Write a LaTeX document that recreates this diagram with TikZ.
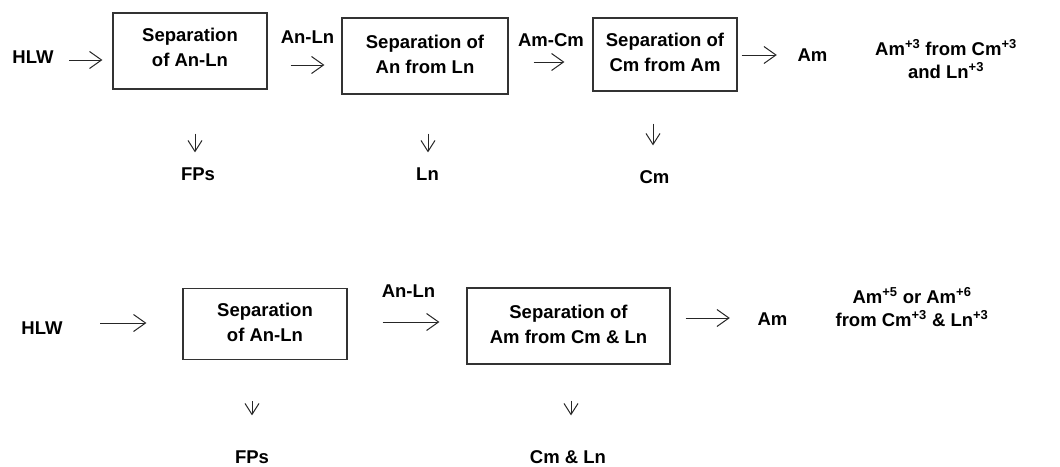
\documentclass[tikz,border=0pt]{standalone}
\usepackage{fontspec}
\setmainfont{Liberation Sans}
\usetikzlibrary{arrows.meta}
\newcommand{\lowstrut}[1]{\rule[-#1pt]{0pt}{#1pt}}
\begin{document}
\begin{tikzpicture}[x=1pt,y=-1pt,
  every node/.style={font=\bfseries\fontsize{18.5}{25}\selectfont, inner sep=0pt, text=black},
  box/.style={draw=black!80, line width=1.2pt, align=center},
  lbl/.style={anchor=base},
  note/.style={anchor=base, align=center, font=\bfseries\fontsize{18.5}{23}\selectfont},
  rarr/.style={draw=black!85, line width=1pt, -{Straight Barb[length=12pt,width=17pt]}},
  darr/.style={draw=black!85, line width=1pt, -{Straight Barb[length=11pt,width=14pt]}},
]
\useasboundingbox (0,0) rectangle (1060,466);

% ---------- top row ----------
\node[lbl] (hlw1) at (33,63.3) {HLW};
\node[box, minimum width=154pt, minimum height=76pt] (b1) at (190,51) {Separation\\of An-Ln\lowstrut{7}};
\node[lbl] (lab1) at (307.5,43.3) {An-Ln};
\node[box, minimum width=166pt, minimum height=76pt] (b2) at (425,56) {Separation of\\An from Ln\lowstrut{4}};
\node[lbl] (lab2) at (551,46.7) {Am-Cm};
\node[box, minimum width=144pt, minimum height=73pt] (b3) at (665,54.5) {Separation of\\Cm from Am\lowstrut{4}};
\node[lbl] (am1) at (812.5,61.5) {Am};
\node[note] (note1) at (946,78) {Am\textsuperscript{+3} from Cm\textsuperscript{+3}\\and Ln\textsuperscript{+3}};
\node[lbl] (fp1) at (198,180) {FPs};
\node[lbl] (ln1) at (427.5,180) {Ln};
\node[lbl] (cm1) at (654.5,183) {Cm};

\draw[rarr] ([shift={(15.3,-3.3)}]hlw1.base east) -- ([shift={(-10,9)}]b1.west);
\draw[rarr] ([shift={(23,14)}]b1.east) -- ([shift={(-17,9)}]b2.west);
\draw[rarr] ([shift={(25,6)}]b2.east) -- ([shift={(-28,7.5)}]b3.west);
\draw[rarr] ([shift={(4,0.5)}]b3.east) -- ([shift={(-20.6,-6.5)}]am1.base west);
\draw[darr] ([shift={(5,44)}]b1.south) -- ([shift={(-3,-14.7)}]fp1.north);
\draw[darr] ([shift={(3,39)}]b2.south) -- ([shift={(0.5,-14.7)}]ln1.north);
\draw[darr] ([shift={(-12,32)}]b3.south) -- ([shift={(-1.5,-24.5)}]cm1.north);

% ---------- bottom row ----------
\node[lbl] (hlw2) at (42,334) {HLW};
\node[box, minimum width=164pt, minimum height=71pt] (b4) at (265,324) {Separation\\of An-Ln\lowstrut{4}};
\node[lbl] (lab3) at (408.5,297) {An-Ln};
\node[box, minimum width=203pt, minimum height=76pt] (b5) at (568.5,326) {Separation of\\Am from Cm \& Ln\lowstrut{4}};
\node[lbl] (am2) at (772.5,325) {Am};
\node[note] (note2) at (912,326) {Am\textsuperscript{+5} or Am\textsuperscript{+6}\\from Cm\textsuperscript{+3} \& Ln\textsuperscript{+3}};
\node[lbl] (fp2) at (252,463) {FPs};
\node[lbl] (cl) at (568,463) {Cm \& Ln};

\draw[rarr] ([shift={(37.3,-11)}]hlw2.base east) -- ([shift={(-36,-1)}]b4.west);
\draw[rarr] ([shift={(35,-2)}]b4.east) -- ([shift={(-27,-4)}]b5.west);
\draw[rarr] ([shift={(15,-8)}]b5.east) -- ([shift={(-27.6,-7)}]am2.base west);
\draw[darr] ([shift={(-13,41)}]b4.south) -- ([shift={(0,-34.7)}]fp2.north);
\draw[darr] ([shift={(2.5,36)}]b5.south) -- ([shift={(3,-34.5)}]cl.north);
\end{tikzpicture}
\end{document}
